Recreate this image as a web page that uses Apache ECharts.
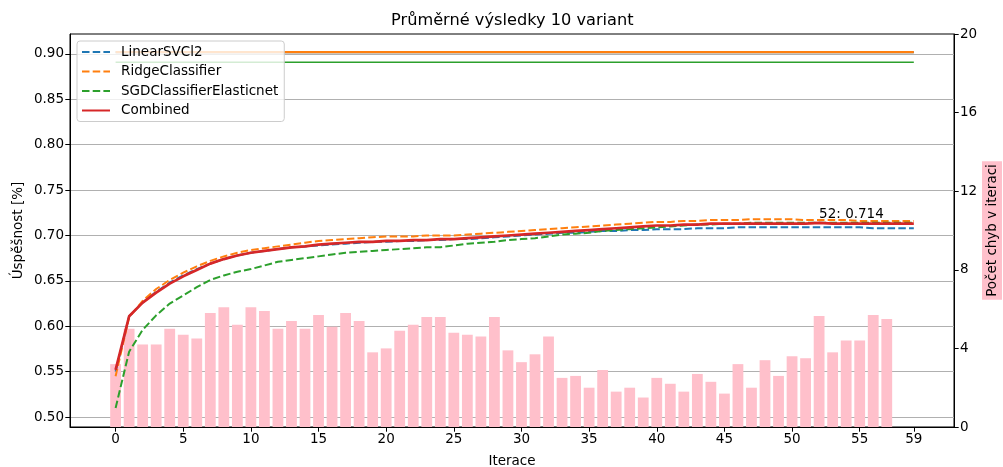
<!DOCTYPE html>
<html><head><meta charset="utf-8">
<script src="https://cdn.jsdelivr.net/npm/echarts@6/dist/echarts.min.js"></script>
<style>html,body{margin:0;padding:0;background:#fff;overflow:hidden}#c{width:1003px;height:467px}</style>
</head><body><div id="c"></div>
<script>
const iterations = [0,1,2,3,4,5,6,7,8,9,10,11,12,13,14,15,16,17,18,19,20,21,22,23,24,25,26,27,28,29,30,31,32,33,34,35,36,37,38,39,40,41,42,43,44,45,46,47,48,49,50,51,52,53,54,55,56,57,58,59];
const xTicks = [0,5,10,15,20,25,30,35,40,45,50,55,59];
const yTicks = [0.50,0.55,0.60,0.65,0.70,0.75,0.80,0.85,0.90];

const linearSVC = [0.550,0.611,0.626,0.638,0.648,0.656,0.663,0.669,0.674,0.678,0.681,0.683,0.685,0.687,0.688,0.689,0.690,0.691,0.692,0.693,0.693,0.694,0.694,0.695,0.695,0.696,0.696,0.697,0.698,0.699,0.700,0.701,0.702,0.703,0.703,0.704,0.705,0.705,0.706,0.706,0.707,0.707,0.707,0.708,0.708,0.708,0.709,0.709,0.709,0.709,0.709,0.709,0.709,0.709,0.709,0.709,0.708,0.708,0.708,0.708];
const ridge = [0.545,0.610,0.628,0.641,0.651,0.659,0.666,0.672,0.677,0.681,0.684,0.686,0.688,0.690,0.692,0.694,0.695,0.696,0.697,0.698,0.699,0.699,0.699,0.700,0.700,0.700,0.701,0.702,0.703,0.704,0.705,0.706,0.707,0.708,0.709,0.710,0.711,0.712,0.713,0.714,0.715,0.715,0.716,0.716,0.717,0.717,0.717,0.718,0.718,0.718,0.718,0.717,0.717,0.717,0.717,0.716,0.716,0.716,0.716,0.716];
const sgd = [0.510,0.572,0.596,0.612,0.625,0.634,0.643,0.651,0.656,0.660,0.663,0.667,0.671,0.673,0.675,0.677,0.679,0.681,0.682,0.683,0.684,0.685,0.686,0.687,0.687,0.689,0.691,0.692,0.693,0.695,0.696,0.697,0.699,0.701,0.702,0.703,0.705,0.706,0.707,0.708,0.709,0.710,0.711,0.712,0.712,0.713,0.713,0.714,0.714,0.714,0.714,0.714,0.714,0.714,0.714,0.714,0.714,0.714,0.714,0.714];
const combined = [0.552,0.611,0.626,0.637,0.647,0.655,0.662,0.669,0.674,0.678,0.681,0.683,0.685,0.687,0.688,0.690,0.691,0.692,0.693,0.693,0.694,0.694,0.695,0.695,0.696,0.696,0.697,0.698,0.699,0.700,0.701,0.702,0.703,0.704,0.705,0.706,0.707,0.708,0.709,0.710,0.711,0.711,0.712,0.712,0.713,0.713,0.713,0.713,0.713,0.713,0.713,0.713,0.714,0.713,0.713,0.713,0.713,0.713,0.713,0.713];
const errors = [3.2,5.0,4.2,4.2,5.0,4.7,4.5,5.8,6.1,5.2,6.1,5.9,5.0,5.4,5.0,5.7,5.1,5.8,5.4,3.8,4.0,4.9,5.2,5.6,5.6,4.8,4.7,4.6,5.6,3.9,3.3,3.7,4.6,2.5,2.6,2.0,2.9,1.8,2.0,1.5,2.5,2.2,1.8,2.7,2.3,1.7,3.2,2.0,3.4,2.6,3.6,3.5,5.65,3.8,4.4,4.4,5.7,5.5];
const refLinear = 0.902, refRidge = 0.902, refSGD = 0.891;

const names = ['LinearSVCl2','RidgeClassifier','SGDClassifierElasticnet','Combined'];
const colors = ['#1f77b4','#ff7f0e','#2ca02c','#d62728'];

const pairs = arr => arr.map((v,i)=>[iterations[i], v]);
const hline = v => [[iterations[0], v],[iterations[iterations.length-1], v]];

let maxIdx = 0;
combined.forEach((v,i)=>{ if (v > combined[maxIdx]) maxIdx = i; });

const font = 'DejaVu Sans';
const chart = echarts.init(document.getElementById('c'), null, {renderer:'canvas', width:1003, height:467});
const dash = [7.5, 3.2];
chart.setOption({
  animation:false,
  textStyle:{fontFamily:font},
  title:{text:'Průměrné výsledky 10 variant', left:386, top:8,
    textStyle:{fontFamily:font, fontSize:16.2, fontWeight:'normal', color:'#000'}},
  grid:{left:70, right:49, top:34, bottom:40, show:true, borderColor:'#000', borderWidth:1,
    containLabel:false, outerBoundsMode:'none'},
  legend:{data:names, orient:'vertical', left:77, top:41, itemWidth:28, itemHeight:14, itemGap:5.5,
    padding:[4,6,4,4], backgroundColor:'rgba(255,255,255,0.8)', borderColor:'#cccccc', borderWidth:1, borderRadius:3,
    itemStyle:{opacity:0},
    textStyle:{fontFamily:font, fontSize:13.5, color:'#000', padding:[0,0,0,6]}},
  xAxis:{type:'value', min:-3.37, max:61.97, name:'Iterace', nameLocation:'middle', nameGap:27, nameMoveOverlap:false,
    nameTextStyle:{fontFamily:font, fontSize:13.5, color:'#000'},
    axisLine:{show:true, onZero:false, lineStyle:{color:'#000', width:1}},
    axisTick:{show:true, customValues:xTicks, length:4.7, lineStyle:{color:'#000'}},
    axisLabel:{customValues:xTicks, fontFamily:font, fontSize:13.5, color:'#000', margin:5},
    splitLine:{show:false}},
  yAxis:[
    {type:'value', min:0.489, max:0.922, position:'left', name:'Úspěšnost [%]', nameLocation:'middle', nameGap:45, nameRotate:90,
      nameMoveOverlap:false,
      nameTextStyle:{fontFamily:font, fontSize:13.5, color:'#000'},
      axisLine:{show:true, onZero:false, lineStyle:{color:'#000'}},
      axisTick:{show:true, customValues:yTicks, length:4.7, lineStyle:{color:'#000'}},
      axisLabel:{customValues:yTicks, formatter:v=>v.toFixed(2), fontFamily:font, fontSize:13.5, color:'#000', margin:6},
      splitLine:{show:true, lineStyle:{color:'#b0b0b0', width:1.1}}},
    {type:'value', min:0, max:20, interval:4, position:'right', name:'Počet chyb v iteraci', nameLocation:'middle', nameGap:28, nameRotate:90,
      nameMoveOverlap:false,
      nameTextStyle:{fontFamily:font, fontSize:13.5, color:'#000', backgroundColor:'pink', padding:[3,3,3,3]},
      axisLine:{show:true, onZero:false, lineStyle:{color:'#000'}},
      axisTick:{show:true, length:4.7, lineStyle:{color:'#000'}},
      axisLabel:{fontFamily:font, fontSize:13.5, color:'#000', margin:6},
      splitLine:{show:false}}
  ],
  series:[
    {name:'errors', type:'bar', yAxisIndex:1, data:pairs(errors), barWidth:10.8, itemStyle:{color:'pink'}, z:1},
    {name:'refLinear', type:'line', data:hline(refLinear), symbol:'none', clip:false, lineStyle:{color:colors[0], width:2}},
    {name:'refRidge', type:'line', data:hline(refRidge), symbol:'none', clip:false, lineStyle:{color:colors[1], width:2.4}},
    {name:'refSGD', type:'line', data:hline(refSGD), symbol:'none', clip:false, lineStyle:{color:colors[2], width:1.5}},
    {name:names[0], type:'line', data:pairs(linearSVC), symbol:'none', color:colors[0], lineStyle:{color:colors[0], width:2, type:dash}},
    {name:names[1], type:'line', data:pairs(ridge), symbol:'none', color:colors[1], lineStyle:{color:colors[1], width:2, type:dash}},
    {name:names[2], type:'line', data:pairs(sgd), symbol:'none', color:colors[2], lineStyle:{color:colors[2], width:2, type:dash}},
    {name:names[3], type:'line', data:pairs(combined), symbol:'none', color:colors[3], lineStyle:{color:colors[3], width:2.7},
      markPoint:{symbol:'circle', symbolSize:0, silent:true,
        data:[{coord:[iterations[maxIdx], combined[maxIdx]]}],
        label:{show:true, position:[0,-15], align:'left', formatter:()=>iterations[maxIdx]+': '+combined[maxIdx].toFixed(3),
          fontFamily:font, fontSize:13.5, color:'#000'}}}
  ]
});
</script></body></html>
